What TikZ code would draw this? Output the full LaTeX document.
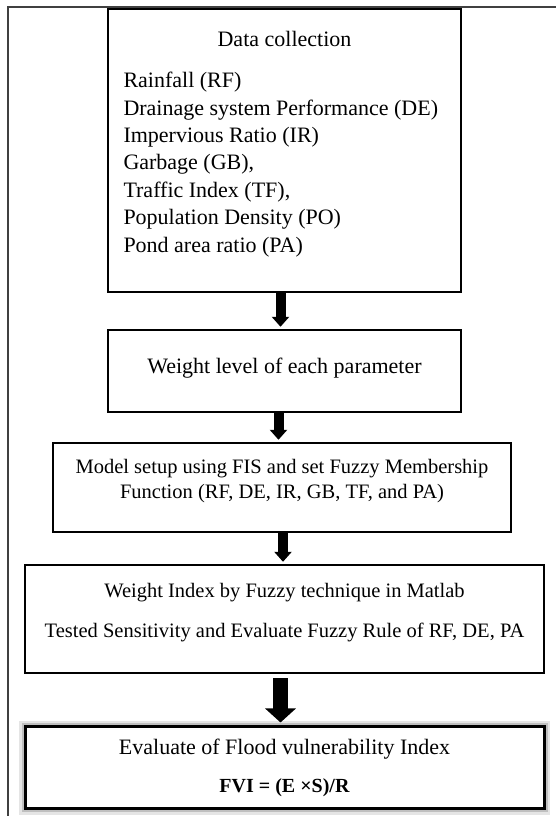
\documentclass[tikz,border=0pt]{standalone}
\usepackage{fontspec}
\setmainfont{Liberation Serif}
\usetikzlibrary{arrows.meta}

\begin{document}
\begin{tikzpicture}[
    x=1pt, y=1pt,
    stepbox/.style={draw, line width=2.4pt, fill=white, inner sep=0pt, align=center},
    bigtext/.style={font=\fontsize{22}{27.4}\selectfont},
    smalltext/.style={font=\fontsize{20.5}{25}\selectfont},
    flow/.style={line width=10pt, -{Triangle[width=17pt,length=10pt]}, shorten >=2pt},
    bigflow/.style={line width=15pt, -{Triangle[width=30pt,length=14pt]},
                    shorten <=4pt, shorten >=3pt},
    glow/.style={preaction={draw=black!10, line width=12pt},
                 preaction={draw=black!25, line width=7pt}}
  ]
  \useasboundingbox (0,0) rectangle (556,816);
  \draw[line width=1.5pt, black!75] (556,809) -- (8,809) -- (8,0);

  \node[stepbox, bigtext, align=left, text width=322pt,
        minimum width=353pt, minimum height=283pt] (data) at (284.5,665.5)
    {\spaceskip=0pt\xspaceskip=0pt
     \makebox[322pt]{Data collection}\\[13.6pt]
     Rainfall (RF)\\
     Drainage system Performance (DE)\\
     Impervious Ratio (IR)\\
     Garbage (GB),\\
     Traffic Index (TF),\\
     Population Density (PO)\\
     Pond area ratio (PA)\\[-10pt]\mbox{}};
  \node[stepbox, bigtext, minimum width=353pt, minimum height=82pt,
        text height=18pt, text depth=12pt] (weight) at (284.5,445)
    {Weight level of each parameter};
  \node[stepbox, smalltext, minimum width=458pt, minimum height=89pt] (model) at (282,328.5)
    {Model setup using FIS and set Fuzzy Membership\\
     Function (RF, DE, IR, GB, TF, and PA)\\[-7pt]\mbox{}};
  \node[stepbox, smalltext, minimum width=519pt, minimum height=108pt] (fuzzy) at (284.5,197)
    {Weight Index by Fuzzy technique in Matlab\\[15pt]
     Tested Sensitivity and Evaluate Fuzzy Rule of RF, DE, PA\\[-7pt]\mbox{}};
  \node[stepbox, glow, bigtext, line width=3pt, minimum width=519pt, minimum height=82pt] (fvi) at (284.5,48)
    {Evaluate of Flood vulnerability Index\\[10.6pt]
     {\fontsize{20}{24}\selectfont\bfseries FVI = (E ×S)/R}};

  \draw[flow] ([xshift=-4pt]data.south) -- ([xshift=-4pt]weight.north);
  \draw[flow] ([xshift=-6pt]weight.south) -- ([xshift=-6pt]weight.south |- model.north);
  \draw[flow] ([xshift=1pt]model.south) -- ([xshift=1pt]model.south |- fuzzy.north);
  \draw[bigflow] ([xshift=-4pt]fuzzy.south) -- ([xshift=-4pt]fvi.north);
\end{tikzpicture}
\end{document}
